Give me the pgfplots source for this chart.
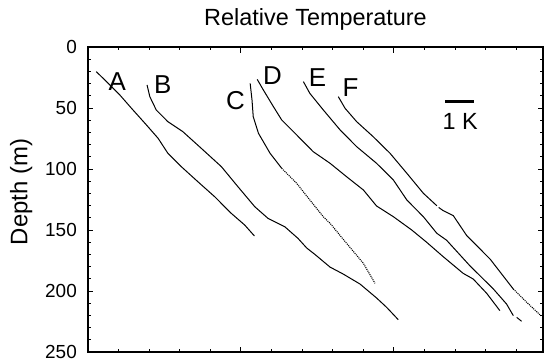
\documentclass[border=0pt]{standalone}
\usepackage{fontspec}
\setmainfont{Liberation Sans}
\usepackage{pgfplots}
\pgfplotsset{compat=1.18}
\begin{document}
\begin{tikzpicture}
\begin{axis}[
 scale only axis, width=455bp, height=305bp,
 xmin=0, xmax=14.87, ymin=0, ymax=250, y dir=reverse,
 axis line style={line width=1.8bp},
 xtick={0,5,10,15}, xticklabels={}, minor x tick num=4,
 ytick={0,50,...,250}, minor y tick num=4,
 tick align=inside,
 major tick length=5.5bp, minor tick length=3bp,
 tick style={black, line width=1bp},
 yticklabel style={font=\fontsize{19}{22}\selectfont, inner sep=0pt, xshift=-11bp, anchor=east},
 /pgf/number format/assume math mode=true,
 clip=false,
 title={Relative Temperature},
 title style={at={(axis description cs:0.5,1.0502)}, anchor=base, font=\fontsize{23.5}{28}\selectfont, inner sep=0pt},
 ylabel={Depth (m)},
 ylabel style={at={(axis description cs:-0.1334,0.5246)}, anchor=base, rotate=0, font=\fontsize{24}{28}\selectfont, inner sep=0pt},
]
% A
\addplot[black, line width=1bp] coordinates {
(0.27,20.2) (0.55,27.0) (1.04,39.3) (1.42,50.2) (1.91,63.9) (2.29,74.8) (2.61,87.1) (3.05,98.1) (3.59,110.4) (4.14,122.7) (4.68,136.3) (5.12,145.9) (5.44,154.9)};
% B
\addplot[black, line width=1bp] coordinates {
(1.93,31.1) (2.02,40.7) (2.23,51.6) (2.61,61.2) (3.10,69.4) (3.70,83.0) (4.36,98.1) (4.90,114.5) (5.45,130.9) (5.88,140.4) (6.43,147.3) (6.86,156.8) (7.15,164.8) (7.42,170.1) (7.91,180.4) (8.34,186.1) (8.89,194.3) (9.43,205.7) (9.76,213.4) (10.14,223.5)};
% C solid
\addplot[black, line width=1bp] coordinates {
(5.30,29.8) (5.36,43.4) (5.40,57.1) (5.57,70.7) (5.95,87.1) (6.33,99.4)};
% C dotted
\addplot[black, line width=1.1bp, dash pattern=on 1bp off 1bp] coordinates {
(6.33,99.4) (6.82,111.7) (7.25,125.4) (7.69,139.1) (7.91,144.5) (8.45,160.9) (9.00,177.3) (9.38,193.7)};
% D
\addplot[black, line width=1bp] coordinates {
(5.53,26.5) (5.73,35.2) (6.06,48.9) (6.33,59.8) (6.82,72.1) (7.36,85.8) (7.91,95.3) (8.45,106.3) (9.00,117.2) (9.43,130.3) (9.98,139.1) (10.58,150.0) (11.07,160.1) (11.61,171.9) (12.26,185.5) (12.59,190.2) (13.03,201.9) (13.46,216.1)};
% E
\addplot[black, line width=1bp] coordinates {
(7.04,28.4) (7.25,38.0) (7.69,51.6) (8.24,68.0) (8.78,81.7) (9.43,95.3) (9.98,109.0) (10.42,125.4) (10.96,139.1) (11.40,152.7) (11.72,158.4) (12.48,179.3) (13.25,198.4) (13.68,210.7) (13.90,220.2)};
\addplot[black, line width=1bp] coordinates {(14.01,221.6) (14.17,224.8)};
% F
\addplot[black, line width=1bp] coordinates {
(8.18,40.7) (8.40,50.2) (8.78,61.2) (9.32,73.5) (9.87,87.1) (10.42,103.5) (10.96,119.9) (11.40,130.1)};
\addplot[black, line width=1bp] coordinates {
(11.46,131.5) (11.60,134.0) (11.94,138.3) (12.38,154.7) (13.14,173.8) (13.90,198.4)};
\addplot[black, line width=1.1bp, dash pattern=on 1bp off 1bp] coordinates {
(13.90,198.4) (14.34,209.3) (14.80,220.2)};
% scale bar
\addplot[black, line width=3bp] coordinates {(11.67,44.3) (12.61,44.3)};
\node[font=\fontsize{23.5}{28}\selectfont, inner sep=0pt] at (axis cs:12.16,61.1) {1 K};
\node[font=\fontsize{26}{30}\selectfont, inner sep=0pt] at (axis cs:0.96,28.3) {A};
\node[font=\fontsize{26}{30}\selectfont, inner sep=0pt] at (axis cs:2.44,31.1) {B};
\node[font=\fontsize{26}{30}\selectfont, inner sep=0pt] at (axis cs:4.82,44.3) {C};
\node[font=\fontsize{26}{30}\selectfont, inner sep=0pt] at (axis cs:6.03,23.8) {D};
\node[font=\fontsize{26}{30}\selectfont, inner sep=0pt] at (axis cs:7.50,25.4) {E};
\node[font=\fontsize{26}{30}\selectfont, inner sep=0pt] at (axis cs:8.58,33.6) {F};
\end{axis}
\pgfresetboundingbox
\path[use as bounding box] (current axis.south west) ++(-88bp,-7bp) rectangle ++(544bp,359bp);
\end{tikzpicture}
\end{document}
